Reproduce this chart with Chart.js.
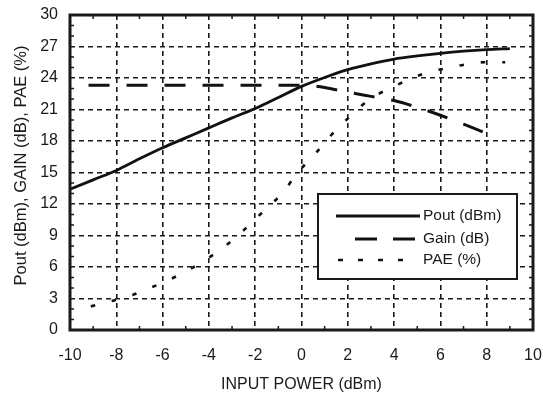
<!DOCTYPE html>
<html>
<head>
<meta charset="utf-8">
<script src="https://cdn.jsdelivr.net/npm/chart.js@4/dist/chart.umd.min.js"></script>
<style>
  html, body { margin: 0; padding: 0; background: #fff; }
</style>
</head>
<body>
<canvas id="canvas" width="543" height="396"></canvas>
<script>
// input power sweep (dBm) and the three measured curves
var poutX = [-10, -9, -8, -7, -6, -5, -4, -3, -2, -1, 0, 1, 2, 3, 4, 5, 6, 7, 8, 9];
var poutY = [13.4, 14.3, 15.2, 16.3, 17.35, 18.3, 19.25, 20.2, 21.1, 22.15, 23.2, 24.05, 24.8, 25.35, 25.8, 26.1, 26.35, 26.55, 26.7, 26.8];

var gainX = [-9.2, -8, -6, -4, -2, 0, 0.5, 1, 2, 3, 4, 5, 6, 7, 8, 8.3];
var gainY = [23.3, 23.3, 23.3, 23.3, 23.3, 23.3, 23.25, 23.1, 22.65, 22.25, 21.85, 21.2, 20.45, 19.6, 18.7, 18.4];

var paeX = [-9.1, -8.3, -7.4, -6.6, -5.7, -4.9, -4.1, -3.3, -2.4, -1.6, -0.8, -0.2, 0.6, 1.3, 2.1, 2.9, 3.75, 4.6, 5.4, 6.2, 7.1, 7.9, 8.8];
var paeY = [2.25, 2.7, 3.25, 3.95, 4.8, 5.7, 6.75, 8.0, 9.7, 11.4, 13.1, 14.9, 16.8, 18.6, 20.35, 21.9, 22.95, 23.8, 24.5, 24.9, 25.3, 25.5, 25.5];

var seriesNames = ['Pout (dBm)', 'Gain (dB)', 'PAE (%)'];
var xTickLabels = [-10, -8, -6, -4, -2, 0, 2, 4, 6, 8, 10];
var yTickLabels = [0, 3, 6, 9, 12, 15, 18, 21, 24, 27, 30];

var FONT = '"Liberation Sans", Arial, Helvetica, sans-serif';
var INK = '#1a1a1a';

function pts(xs, ys) {
    return xs.map(function (x, i) { return { x: x, y: ys[i] }; });
}

// thick frame, small inward minor ticks, legend box and the rotated y title
var framePlugin = {
    id: 'frame',
    afterDatasetsDraw: function (chart) {
        var ctx = chart.ctx;
        var a = chart.chartArea;
        var xs = chart.scales.x, ys = chart.scales.y;
        ctx.save();
        ctx.strokeStyle = INK;

        // minor ticks
        ctx.lineWidth = 1.5;
        ctx.beginPath();
        for (var i = -9; i <= 9; i += 2) {
            var px = xs.getPixelForValue(i);
            ctx.moveTo(px, a.bottom); ctx.lineTo(px, a.bottom - 4);
            ctx.moveTo(px, a.top); ctx.lineTo(px, a.top + 4);
        }
        for (var j = 1; j < 30; j++) {
            if (j % 3 === 0) continue;
            var py = ys.getPixelForValue(j);
            ctx.moveTo(a.left, py); ctx.lineTo(a.left + 4, py);
            ctx.moveTo(a.right, py); ctx.lineTo(a.right - 4, py);
        }
        ctx.stroke();

        // frame
        ctx.lineWidth = 3;
        ctx.strokeRect(a.left, a.top, a.right - a.left, a.bottom - a.top);

        // legend box
        var bx = a.right - 215, by = a.top + 179, bw = 199, bh = 85;
        ctx.fillStyle = '#fff';
        ctx.fillRect(bx, by, bw, bh);
        ctx.lineWidth = 2;
        ctx.setLineDash([]);
        ctx.strokeRect(bx, by, bw, bh);

        var samples = [
            { x0: bx + 18, x1: bx + 102, y: by + 22, dash: [] },
            { x0: bx + 37, x1: bx + 97, y: by + 45, dash: [22, 16] },
            { x0: bx + 20, x1: bx + 100, y: by + 66, dash: [5, 15] }
        ];
        chart.data.datasets.forEach(function (ds, k) {
            var s = samples[k];
            ctx.save();
            ctx.strokeStyle = ds.borderColor;
            ctx.lineWidth = ds.borderWidth;
            ctx.setLineDash(s.dash);
            ctx.beginPath();
            ctx.moveTo(s.x0, s.y);
            ctx.lineTo(s.x1, s.y);
            ctx.stroke();
            ctx.restore();
            ctx.fillStyle = INK;
            ctx.font = '15.5px ' + FONT;
            ctx.textAlign = 'left';
            ctx.textBaseline = 'middle';
            ctx.fillText(ds.label, bx + 105, s.y);
        });

        // y axis title
        ctx.translate(21, (a.top + a.bottom) / 2 - 7);
        ctx.rotate(-Math.PI / 2);
        ctx.fillStyle = INK;
        ctx.font = '16.5px ' + FONT;
        ctx.textAlign = 'center';
        ctx.textBaseline = 'middle';
        ctx.fillText('Pout (dBm), GAIN (dB), PAE (%)', 0, 0);
        ctx.restore();
    }
};

var ctx = document.getElementById('canvas').getContext('2d');
var myChart = new Chart(ctx, {
    type: 'line',
    data: {
        datasets: [
            {
                label: seriesNames[0],
                data: pts(poutX, poutY),
                borderColor: '#111',
                borderWidth: 2.8,
                tension: 0.4,
                cubicInterpolationMode: 'monotone'
            },
            {
                label: seriesNames[1],
                data: pts(gainX, gainY),
                borderColor: '#111',
                borderWidth: 3,
                borderDash: [21, 17],
                tension: 0.4,
                cubicInterpolationMode: 'monotone'
            },
            {
                label: seriesNames[2],
                data: pts(paeX, paeY),
                borderColor: '#111',
                borderWidth: 2.6,
                borderDash: [4.5, 17],
                tension: 0.4,
                cubicInterpolationMode: 'monotone'
            }
        ]
    },
    options: {
        responsive: false,
        animation: false,
        devicePixelRatio: 1,
        layout: { padding: { top: 15, right: 10, left: 0, bottom: 0 } },
        elements: { point: { radius: 0 } },
        plugins: {
            legend: { display: false },
            tooltip: { enabled: false }
        },
        scales: {
            x: {
                type: 'linear',
                min: -10,
                max: 10,
                afterFit: function (s) {
                    s.height = 66;
                    s.paddingLeft = 0;
                    s.paddingRight = 0;
                },
                afterBuildTicks: function (s) {
                    s.ticks = xTickLabels.map(function (v) { return { value: v }; });
                },
                grid: {
                    color: INK,
                    lineWidth: 1.6,
                    drawTicks: false
                },
                border: { display: false, dash: [5, 4] },
                ticks: {
                    color: INK,
                    font: { family: FONT, size: 16 },
                    padding: 16,
                    maxRotation: 0
                },
                title: {
                    display: true,
                    text: 'INPUT POWER (dBm)',
                    color: INK,
                    font: { family: FONT, size: 16 },
                    padding: { top: 0, bottom: 2 }
                }
            },
            y: {
                min: 0,
                max: 30,
                afterFit: function (s) {
                    s.width = 70;
                    s.paddingTop = 0;
                    s.paddingBottom = 0;
                },
                afterBuildTicks: function (s) {
                    s.ticks = yTickLabels.map(function (v) { return { value: v }; });
                },
                grid: {
                    color: INK,
                    lineWidth: 1.6,
                    drawTicks: false
                },
                border: { display: false, dash: [5, 4] },
                ticks: {
                    color: INK,
                    font: { family: FONT, size: 16 },
                    padding: 12
                }
            }
        }
    },
    plugins: [framePlugin]
});
</script>
</body>
</html>
